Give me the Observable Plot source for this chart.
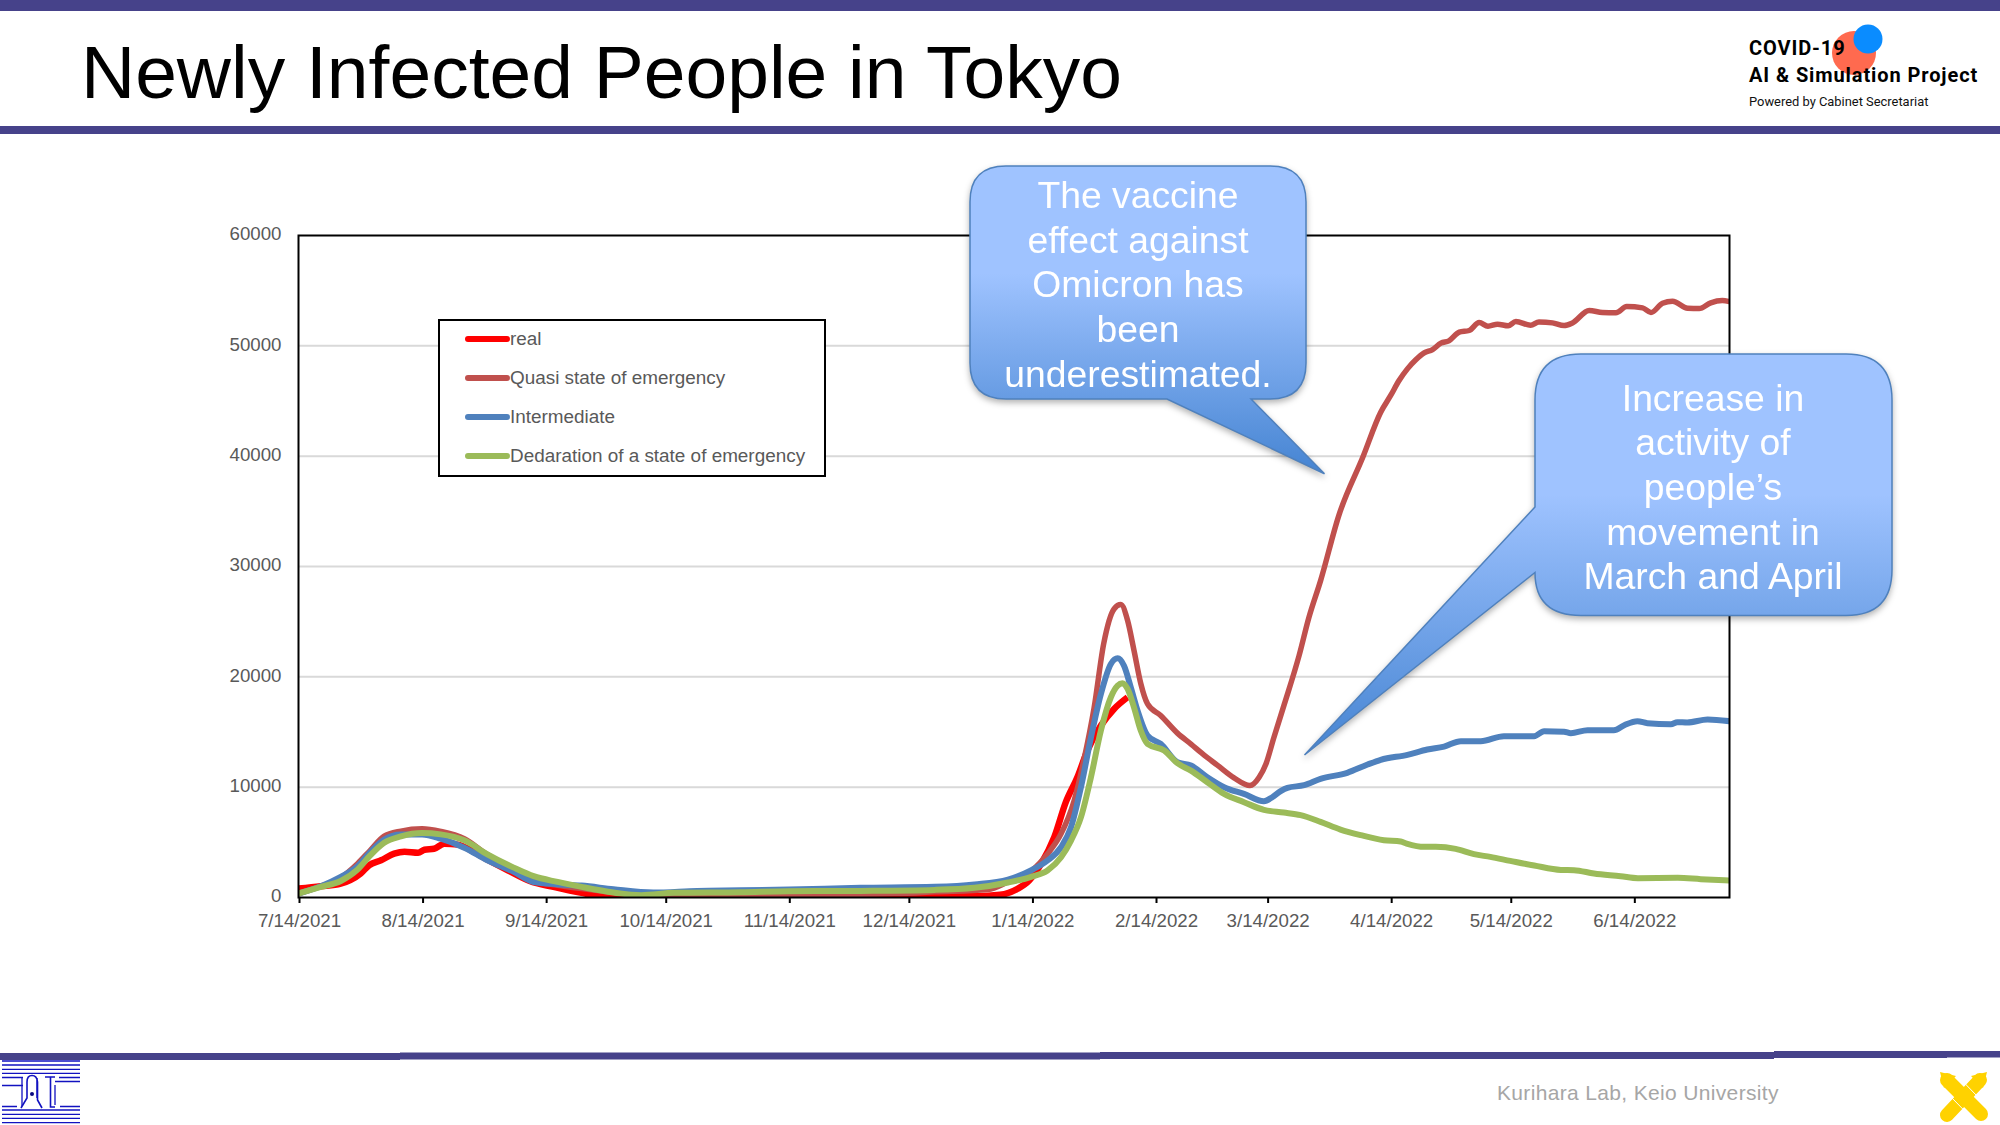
<!DOCTYPE html>
<html>
<head>
<meta charset="utf-8">
<script src="https://cdn.jsdelivr.net/npm/d3@7"></script>
<script src="https://cdn.jsdelivr.net/npm/@observablehq/plot@0.6"></script>
<style>
  html, body { margin: 0; padding: 0; background: #fff; }
  #page { position: relative; width: 2000px; height: 1125px; overflow: hidden; font-family: "Liberation Sans", sans-serif; }
  #page > * { position: absolute; }
  #decor { left: 0; top: 0; }
  #chart { left: 200px; top: 200px; }
  #callouts { left: 0; top: 0; filter: drop-shadow(0 3px 3px rgba(0,0,0,.3)); }
  #legend { left: 438px; top: 319px; width: 384px; height: 154px; border: 2px solid #000; background: #fff; }
  #legend div { position: absolute; left: 25px; height: 20px; line-height: 20px; font-size: 18.9px; color: #595959; white-space: nowrap; }
  #legend i { position: absolute; left: 0; top: 7px; width: 45px; height: 6px; border-radius: 3px; }
  #legend span { position: absolute; left: 45px; }
</style>
</head>
<body>
<div id="page">
  <svg id="decor" width="2000" height="1125"></svg>
  <div id="chart"></div>
  <div id="legend"></div>
  <svg id="callouts" width="2000" height="1125"></svg>
</div>
<script>
// values, x is days since 7/14/2021
const seriesNames = ["real", "Quasi state of emergency", "Intermediate", "Declaration of a state of emergency"];
const seriesColors = ["#ff0000", "#c0504d", "#4f81bd", "#9bbb59"];
const legendLabels = ["real", "Quasi state of emergency", "Intermediate", "Dedaration of a state of emergency"];

const realDays = [0,5.6,10.6,13,15.6,17.7,20.7,24,26.6,30,31.6,34,36.6,40,43,47.4,52.5,58,64,71,76,83,92,111,123,141,160,170,176,180.4,183.3,186.3,189.6,192.5,195.4,197.9,201.3,204.6,208];
const realValues = [810,1020,1260,1570,2170,2920,3370,3970,4150,4060,4330,4420,4880,4790,4330,3430,2470,1500,960,420,150,70,40,120,120,120,120,120,240,790,1540,3050,5460,8640,10900,13300,15580,17090,18150];

const quasiDays = [0,5.6,10.6,14.8,18,21.4,25.7,31,35.7,41.6,47.4,54,59,65,71,79,89,100,111,123,141,149.7,159.6,173,178,184,187.9,191.3,194.6,197,199.6,202,204.6,206.3,208,209.6,211.3,213,216.3,220.5,223.9,227.2,230.5,234.7,238.7,241,242.7,244.7,247.3,251,253.5,256.4,261,267,271.5,274,276.1,278.2,280.3,282.4,284.5,286.6,288.6,291.2,293.7,296.2,298.4,300.8,303.5,305.4,309.1,311.2,314.6,317.5,319.6,323.8,327.1,330.5,333.2,337.2,339.3,342.2,344.7,348.5,351.4,354.3,357.2,359];
const quasiValues = [360,1020,1800,3070,4270,5540,6020,6230,5990,5330,3880,2530,1500,1110,810,450,210,210,270,300,300,360,510,725,1420,2450,3950,5770,8800,12400,17200,23000,26150,26550,25100,22400,19400,17550,16500,14900,13900,12900,12000,10850,10150,10900,12100,14500,17500,21900,25400,28700,34640,39900,43985,45500,46850,47910,48730,49360,49660,50240,50450,51240,51390,52110,51780,51960,51810,52200,51870,52170,52080,51840,52080,53200,53020,52990,53560,53440,53020,53860,54050,53410,53380,53900,54100,54010];

const interDays = [0,5.6,10.6,14.8,18,21.4,25.7,31,35.7,41.6,47.4,54,59,65,71,79,89,100,111,123,141,159.6,169.6,178,184,187.9,191.3,193.8,196.3,198.8,201.3,203.8,205.5,207.1,208.8,210.5,213,216.3,220.5,223.9,228,232.2,237.2,242.2,244.3,246.4,248.1,252.3,256.4,263.1,268.2,271.5,278.2,283.2,287.4,291.6,296.6,302.4,310,312.5,317.5,319.2,323.4,330,332.6,335.9,338.4,344.3,345.9,348.4,353.5,359];
const interValues = [360,1020,1860,2830,4120,5240,5720,5720,5330,4510,3370,2320,1410,1200,1080,750,450,600,650,720,875,970,1180,1630,2500,3350,4560,6370,10000,14500,18450,21170,21680,21000,19050,16940,14680,13920,12260,11960,10900,10000,9390,8730,9090,9640,9940,10180,10750,11300,12050,12480,12930,13410,13680,14170,14170,14620,14620,15070,15020,14890,15160,15160,15620,15980,15800,15710,15890,15860,16130,15980];

const declDays = [0,5.6,10.6,14.8,18,21.4,25.7,31,35.7,41.6,47.4,54,59,65,71,79,86,94.3,111,123,141,159.6,169.6,178,184,187.9,191.3,193.8,196.3,198.8,201.3,203.8,205.5,206.7,208,209.6,211.3,213,217.2,220.5,223.9,228,232.2,237.2,242.2,247.2,251.4,256.4,261.4,266.5,272.3,276.5,278,282.4,285.3,290.3,294.9,299,304,310,316.7,320,325,331.7,336,346,351.8,359];
const declValues = [360,960,1500,2530,3820,4940,5540,5840,5720,5180,3910,2710,1930,1410,960,450,210,420,480,570,600,690,875,1360,1900,2450,3650,5160,7280,10900,15130,18150,19200,19420,18900,17240,15130,13920,13320,12170,11500,10450,9390,8640,7940,7700,7460,6855,6160,5650,5190,5070,4890,4590,4590,4410,3930,3680,3320,2900,2500,2480,2170,1930,1750,1780,1660,1540];

const xTickLabels = ["7/14/2021","8/14/2021","9/14/2021","10/14/2021","11/14/2021","12/14/2021","1/14/2022","2/14/2022","3/14/2022","4/14/2022","5/14/2022","6/14/2022"];
const yTicks = [0,10000,20000,30000,40000,50000,60000];

const startDate = Date.UTC(2021, 6, 14);
const endDay = 359;
const parseTick = d3.utcParse("%m/%d/%Y");
const toRows = (days, values, name) => days.map((d, i) => ({date: new Date(startDate + d * 864e5), value: values[i], name}));

const lineStyle = {x: "date", y: "value", curve: "monotone-x", strokeLinejoin: "round", strokeLinecap: "butt", clip: true};

const chart = Plot.plot({
  width: 1600,
  height: 760,
  marginLeft: 98,
  marginRight: 71,
  marginTop: 35,
  marginBottom: 63,
  style: {fontFamily: "Liberation Sans", fontSize: "18.7px", color: "#595959", background: "transparent"},
  x: {
    type: "utc",
    domain: [new Date(startDate), new Date(startDate + endDay * 864e5)],
    ticks: xTickLabels.map(parseTick),
    tickFormat: d3.utcFormat("%-m/%-d/%Y"),
    label: null
  },
  y: {domain: [0, 60000], ticks: yTicks, tickFormat: d => String(d), label: null},
  marks: [
    Plot.ruleY(yTicks.slice(1, -1), {stroke: "#d9d9d9", strokeWidth: 2}),
    Plot.line(toRows(realDays, realValues, seriesNames[0]), {...lineStyle, stroke: seriesColors[0], strokeWidth: 6.5}),
    Plot.line(toRows(quasiDays, quasiValues, seriesNames[1]), {...lineStyle, stroke: seriesColors[1], strokeWidth: 5.5}),
    Plot.line(toRows(interDays, interValues, seriesNames[2]), {...lineStyle, stroke: seriesColors[2], strokeWidth: 6}),
    Plot.line(toRows(declDays, declValues, seriesNames[3]), {...lineStyle, stroke: seriesColors[3], strokeWidth: 6}),
    Plot.frame({stroke: "#000", strokeWidth: 2}),
    Plot.axisX({ticks: xTickLabels.map(parseTick), tickFormat: d3.utcFormat("%-m/%-d/%Y"), tickSize: 6, tickPadding: 10, dx: 1, stroke: "#000", strokeWidth: 2, fill: "#595959", label: null}),
    Plot.axisY({ticks: yTicks, tickFormat: d => String(d), tickSize: 0, tickPadding: 17, dy: -1, fill: "#595959", label: null})
  ]
});
document.getElementById("chart").append(chart);

// legend
const legend = d3.select("#legend");
legendLabels.forEach((label, i) => {
  const row = legend.append("div").style("top", (8 + i * 39) + "px");
  row.append("i").style("background", seriesColors[i]);
  row.append("span").text(label);
});

// slide furniture: bars, logos, title, footer
const bar = "#46428a";
const decor = d3.select("#decor");
const rect = (x, y, w, h, fill) => decor.append("rect").attr("x", x).attr("y", y).attr("width", w).attr("height", h).attr("fill", fill);
const label = (x, y, text, size, fill, weight, family, spacing) => decor.append("text").attr("x", x).attr("y", y).text(text)
  .attr("font-size", size).attr("fill", fill).attr("font-weight", weight || 400)
  .attr("font-family", family || "Liberation Sans").attr("letter-spacing", spacing || 0);

rect(0, 0, 2000, 11, bar);
rect(0, 126, 2000, 8, bar);
rect(0, 1053, 400, 7, bar);
rect(400, 1052.5, 700, 7, bar);
rect(1100, 1052, 674, 7, bar);
rect(1774, 1051, 173, 7, bar);
rect(1947, 1051, 53, 6.5, bar);

label(81, 98, "Newly Infected People in Tokyo", 75, "#000");

decor.append("circle").attr("cx", 1854).attr("cy", 53).attr("r", 22).attr("fill", "#ff6a4f");
decor.append("circle").attr("cx", 1868).attr("cy", 39).attr("r", 14.5).attr("fill", "#0a8cff");
label(1749, 55, "COVID-19", 20, "#000", 700, "Roboto", 0.9);
label(1749, 82, "AI & Simulation Project", 20, "#000", 700, "Roboto", 0.9);
label(1749, 106, "Powered by Cabinet Secretariat", 12.9, "#111", 400, "Roboto");

label(1497, 1100, "Kurihara Lab, Keio University", 21, "#a6a6a6", 400, "Liberation Sans", 0.34);

// lab mark, lower left
const mark = decor.append("g").attr("stroke", "#1212c0").attr("stroke-width", 1.3).attr("fill", "none");
[1061, 1065, 1069.3, 1073.3, 1110, 1114.3, 1118.3, 1122.7].forEach(y => mark.append("path").attr("d", `M2 ${y}H80`));
mark.append("path").attr("d", "M2 1077.5H23M2 1085.5H23M2 1106.5H17M59 1077.5H80M55 1081.5H80M60 1106.5H80M55 1085V1105M22 1078V1106");
mark.append("path").attr("d", "M21 1108L27 1098V1082Q27 1075.5 32 1075.5Q37 1075.5 37.5 1082V1100L42 1108M37 1078V1098M45 1077H55M50.5 1077V1107H55").attr("stroke-width", 1.6);
mark.append("circle").attr("cx", 32).attr("cy", 1094).attr("r", 2).attr("fill", "#0a0a80").attr("stroke", "none");

// crossed pens, lower right
const pens = decor.append("g").attr("stroke", "#ffd200").attr("stroke-linecap", "round").attr("fill", "none");
pens.append("path").attr("d", "M1947 1080L1981 1114").attr("stroke-width", 14);
pens.append("path").attr("d", "M1980 1080L1947 1115").attr("stroke-width", 14);
decor.append("path").attr("d", "M1940 1072L1956 1076L1944 1088ZM1987 1072L1971 1076L1983 1088Z").attr("fill", "#ffd200");
decor.append("path").attr("d", "M1964 1082.6L1978 1097M1952 1098L1973 1119.5").attr("stroke", "#fff").attr("stroke-width", 1);

// callouts
const callouts = d3.select("#callouts");
const defs = callouts.append("defs");
[["g1", "#9fc3ff", "#4584d2"], ["g2", "#9fc3ff", "#4584d2"]].forEach(([id, a, b]) => {
  const g = defs.append("linearGradient").attr("id", id).attr("x1", 0).attr("y1", 0).attr("x2", 0).attr("y2", 1);
  g.append("stop").attr("offset", "0%").attr("stop-color", a);
  g.append("stop").attr("offset", "35%").attr("stop-color", a);
  g.append("stop").attr("offset", "100%").attr("stop-color", b);
});
callouts.append("path").attr("fill", "url(#g1)").attr("stroke", "#4f81bd").attr("stroke-width", 1.5)
  .attr("d", "M1006 166H1270Q1306 166 1306 202V363Q1306 399 1270 399H1251L1324.5 473.7L1167 399H1006Q970 399 970 363V202Q970 166 1006 166Z");
callouts.append("path").attr("fill", "url(#g2)").attr("stroke", "#4f81bd").attr("stroke-width", 1.5)
  .attr("d", "M1581 354H1846Q1892 354 1892 400V569.5Q1892 615.5 1846 615.5H1581Q1535 615.5 1535 572.5L1304.5 755L1535 507V400Q1535 354 1581 354Z");
const calloutText = (cx, y, lines) => lines.forEach((t, i) => callouts.append("text").attr("x", cx).attr("y", y + i * 44.7)
  .attr("text-anchor", "middle").attr("fill", "#fff").attr("font-size", 37.3).attr("font-family", "Liberation Sans").text(t));
calloutText(1138, 208, ["The vaccine", "effect against", "Omicron has", "been", "underestimated."]);
calloutText(1713, 410.5, ["Increase in", "activity of", "people’s", "movement in", "March and April"]);
</script>
</body>
</html>
